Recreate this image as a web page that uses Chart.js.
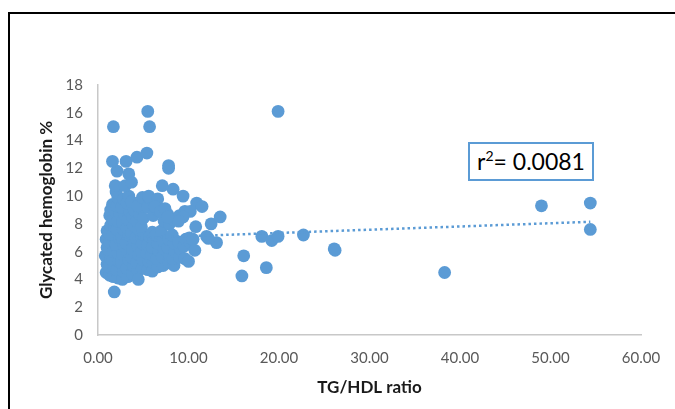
<!DOCTYPE html>
<html>
<head>
<meta charset="utf-8">
<script src="https://cdn.jsdelivr.net/npm/chart.js@4"></script>
<style>
  html, body { margin: 0; padding: 0; background: #fff; overflow: hidden; }
  #wrap { position: relative; width: 675px; height: 409px; }
  #frame { position: absolute; left: 8px; top: 12px; width: 720px; height: 460px; border: 2px solid #000; }
  canvas { position: absolute; left: 0; top: 0; }
  #r2 {
    position: absolute; left: 468px; top: 142px; width: 122px; height: 35px;
    border: 2px solid #5b9bd5; background: #fff;
    font-family: Lato, sans-serif; font-size: 23px; color: #000;
    line-height: 35px; text-align: center;
  }
  #r2 sup { font-size: 14px; vertical-align: 9px; line-height: 0; }
</style>
</head>
<body>
<div id="wrap">
  <div id="frame"></div>
  <canvas id="c" width="675" height="409"></canvas>
  <div id="r2">r<sup>2</sup>= 0.0081</div>
</div>
<script>
'use strict';

// TG/HDL ratio vs glycated hemoglobin, one pair per patient
const samples = [
  [0.9,4.5],[1.0,5.1],[0.8,5.7],[1.0,6.3],[0.9,6.9],[1.0,7.5],
  [1.3,4.3],[1.2,4.9],[1.4,5.5],[1.2,6.1],[1.3,6.7],[1.2,7.3],[1.4,7.9],[1.3,8.6],[1.4,9.0],
  [1.7,4.2],[1.8,4.8],[1.6,5.4],[1.7,6.0],[1.9,6.6],[1.6,7.2],[1.8,7.8],[1.7,8.3],[1.9,8.9],[1.6,9.4],
  [2.2,4.1],[2.1,4.7],[2.3,5.3],[2.2,5.9],[2.0,6.5],[2.3,7.0],[2.1,7.6],[2.2,8.2],[2.4,8.8],[2.1,9.3],[2.2,9.9],[2.0,10.3],
  [2.7,4.0],[2.8,4.6],[2.6,5.2],[2.7,5.8],[2.9,6.4],[2.6,7.0],[2.8,7.6],[2.7,8.1],[2.9,8.7],[2.6,9.2],[2.8,9.8],
  [3.3,4.2],[3.2,4.8],[3.4,5.4],[3.3,6.0],[3.1,6.6],[3.4,7.2],[3.2,7.7],[3.3,8.3],[3.5,8.9],[3.2,9.5],[3.4,10.0],
  [3.8,4.4],[3.9,5.0],[3.7,5.6],[3.8,6.2],[4.0,6.8],[3.7,7.3],[3.9,7.9],[3.8,8.5],[4.0,9.0],[3.7,9.6],
  [4.4,4.6],[4.3,5.2],[4.5,5.8],[4.4,6.4],[4.2,7.0],[4.5,7.6],[4.3,8.2],[4.6,8.7],[4.4,9.3],
  [4.9,4.8],[5.0,5.4],[4.8,6.0],[4.9,6.6],[5.1,7.2],[4.8,7.8],[5.0,8.4],[4.9,9.9],
  [5.5,4.7],[5.6,5.3],[5.4,5.9],[5.5,6.5],[5.7,7.1],[5.5,9.2],[5.6,9.9],
  [6.0,4.6],[6.1,5.2],[5.9,5.8],[6.0,6.3],[6.2,6.9],[6.0,7.4],[6.1,8.6],
  [6.6,4.9],[6.5,5.5],[6.7,6.1],[6.6,6.6],[6.4,7.2],[6.6,9.0],
  [7.2,5.0],[7.1,5.6],[7.3,6.2],[7.2,6.8],[7.0,7.5],[7.3,8.2],
  [7.8,5.2],[7.9,5.7],[7.7,6.3],[7.8,6.9],[7.9,8.0],[7.7,8.7],
  [8.4,5.0],[8.3,5.5],[8.5,6.0],[8.4,6.6],[8.2,7.2],[8.4,8.3],
  [9.0,5.6],[9.1,6.2],[8.9,6.7],[9.0,8.6],
  [9.6,5.5],[9.5,6.4],[9.7,6.9],[9.6,8.9],
  [10.2,6.6],[10.1,7.0],
  [10.5,6.9],[12.0,7.1],[13.1,6.65],[12.2,6.95],[10.0,5.3],[10.7,6.1],[10.8,7.8],[12.5,8.0],
  [13.5,8.5],[10.9,9.5],[11.5,9.25],[10.2,8.9],[9.4,8.5],[8.9,8.2],[9.4,10.0],[8.3,10.5],
  [7.1,10.75],[7.8,12.2],[7.8,12.0],[5.6,10.0],[6.6,9.8],[6.3,9.25],[6.9,8.9],[7.4,9.1],[7.7,8.5],
  [1.9,10.75],[3.0,10.75],[3.7,11.0],[3.4,11.6],[2.1,11.8],[1.6,12.5],[3.1,12.5],[4.3,12.8],
  [5.4,13.1],[1.7,15.0],[5.7,15.0],[5.5,16.1],[4.45,4.0],[1.8,3.1],
  [16.1,5.7],[15.9,4.25],[18.6,4.85],[18.1,7.1],[19.2,6.8],[19.9,7.1],[19.9,16.1],
  [22.7,7.2],[26.1,6.2],[26.2,6.1],[38.3,4.5],[49.0,9.3],[54.4,9.5],[54.4,7.6]
];

// linear trendline ends, as drawn
const trendX = [0.8, 54.4];
const trendY = [6.9, 8.15];

const xTicks = [0, 10, 20, 30, 40, 50, 60];
const yTicks = [0, 2, 4, 6, 8, 10, 12, 14, 16, 18];

const blue = '#5b9bd5';
const tickFont = { family: 'Lato', size: 15 };
const titleFont = { family: 'Lato', size: 17, weight: 'bold' };

new Chart(document.getElementById('c'), {
  type: 'scatter',
  data: {
    datasets: [{
      label: 'Trend',
      data: trendX.map((x, i) => ({ x: x, y: trendY[i] })),
      showLine: true,
      borderColor: blue,
      borderWidth: 2.5,
      borderDash: [2.5, 3],
      pointRadius: 0
    }, {
      label: 'Patients',
      data: samples.map(p => ({ x: p[0], y: p[1] })),
      backgroundColor: blue,
      borderColor: blue,
      borderWidth: 0,
      pointRadius: 6.4
    }]
  },
  options: {
    responsive: false,
    animation: false,
    events: [],
    layout: { padding: { top: 85, right: 34, left: 0, bottom: 0 } },
    plugins: { legend: { display: false }, tooltip: { enabled: false } },
    scales: {
      x: {
        type: 'linear', min: 0, max: 60,
        afterBuildTicks: s => { s.ticks = xTicks.map(v => ({ value: v })); },
        afterFit: s => { s.height = 74; },
        grid: { drawOnChartArea: false, drawTicks: false },
        border: { display: true, color: '#c8c8c8', width: 1.5 },
        ticks: { padding: 14, color: '#595959', font: tickFont, callback: v => v.toFixed(2) },
        title: { display: true, text: 'TG/HDL ratio', color: '#1a1a1a', font: titleFont, padding: { top: 4, bottom: 11 } }
      },
      y: {
        type: 'linear', min: 0, max: 18,
        afterBuildTicks: s => { s.ticks = yTicks.map(v => ({ value: v })); },
        afterFit: s => { s.width = 98; },
        grid: { drawOnChartArea: false, drawTicks: false },
        border: { display: true, color: '#c8c8c8', width: 1.5 },
        ticks: { padding: 15, color: '#595959', font: tickFont },
        title: { display: true, text: 'Glycated hemoglobin %', color: '#1a1a1a', font: titleFont, padding: { top: 36, bottom: 0 } }
      }
    }
  }
});
</script>
</body>
</html>
